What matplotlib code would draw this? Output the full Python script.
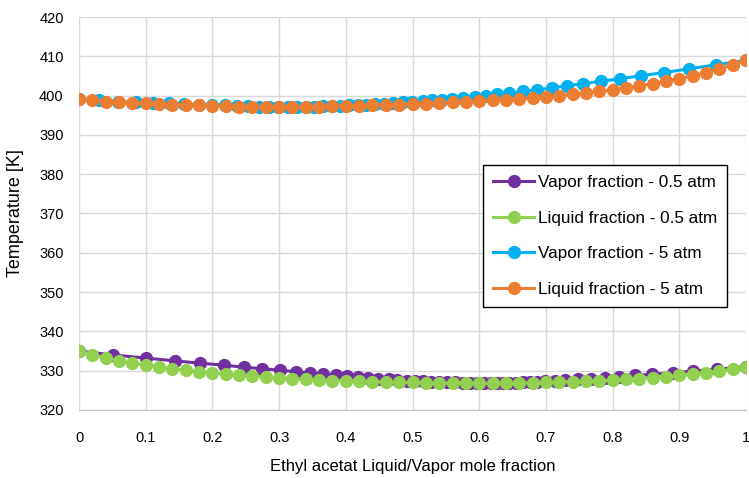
import matplotlib.pyplot as plt
import numpy as np

plt.rcParams['font.family'] = ['Liberation Sans', 'DejaVu Sans']

# liquid mole fraction of ethyl acetate (same grid for both pressures)
x_liq = [0.00, 0.02, 0.04, 0.06, 0.08, 0.10, 0.12, 0.14, 0.16, 0.18,
         0.20, 0.22, 0.24, 0.26, 0.28, 0.30, 0.32, 0.34, 0.36, 0.38,
         0.40, 0.42, 0.44, 0.46, 0.48, 0.50, 0.52, 0.54, 0.56, 0.58,
         0.60, 0.62, 0.64, 0.66, 0.68, 0.70, 0.72, 0.74, 0.76, 0.78,
         0.80, 0.82, 0.84, 0.86, 0.88, 0.90, 0.92, 0.94, 0.96, 0.98, 1.00]

# bubble temperatures [K] at 0.5 atm
T_05 = [335.0, 334.0, 333.2, 332.5, 331.9, 331.4, 330.9, 330.5, 330.1, 329.7,
        329.4, 329.1, 328.8, 328.6, 328.4, 328.2, 328.0, 327.8, 327.6, 327.5,
        327.4, 327.3, 327.2, 327.1, 327.0, 327.0, 326.9, 326.85, 326.8, 326.75,
        326.75, 326.75, 326.8, 326.85, 326.9, 327.0, 327.1, 327.2, 327.35, 327.45,
        327.6, 327.8, 328.0, 328.2, 328.5, 328.8, 329.1, 329.5, 329.9, 330.4, 331.0]

# vapor mole fraction in equilibrium at 0.5 atm
y_05 = [0.000, 0.051, 0.101, 0.144, 0.182, 0.217, 0.247, 0.275, 0.302, 0.326,
        0.347, 0.366, 0.385, 0.402, 0.419, 0.434, 0.449, 0.464, 0.477, 0.491,
        0.504, 0.516, 0.528, 0.540, 0.552, 0.564, 0.575, 0.586, 0.597, 0.607,
        0.617, 0.626, 0.636, 0.645, 0.655, 0.665, 0.676, 0.687, 0.699, 0.713,
        0.729, 0.748, 0.768, 0.789, 0.810, 0.834, 0.859, 0.890, 0.921, 0.956, 1.000]

# bubble temperatures [K] at 5 atm
T_5 = [399.1, 398.8, 398.5, 398.3, 398.1, 398.0, 397.9, 397.7, 397.6, 397.5,
       397.4, 397.3, 397.2, 397.2, 397.15, 397.15, 397.15, 397.2, 397.2, 397.3,
       397.35, 397.4, 397.5, 397.6, 397.7, 397.8, 397.9, 398.05, 398.25, 398.45,
       398.65, 398.8, 399.0, 399.2, 399.4, 399.7, 400.0, 400.3, 400.7, 401.05,
       401.45, 401.95, 402.5, 403.05, 403.65, 404.3, 405.05, 405.85, 406.8, 407.85, 409.0]

# vapor mole fraction in equilibrium at 5 atm
y_5 = [0.000, 0.030, 0.058, 0.085, 0.111, 0.135, 0.158, 0.180, 0.200, 0.219,
       0.237, 0.254, 0.270, 0.285, 0.299, 0.313, 0.327, 0.340, 0.353, 0.366,
       0.379, 0.392, 0.405, 0.418, 0.431, 0.444, 0.457, 0.471, 0.485, 0.499,
       0.515, 0.529, 0.544, 0.559, 0.576, 0.594, 0.610, 0.627, 0.645, 0.665,
       0.686, 0.709, 0.731, 0.756, 0.783, 0.811, 0.842, 0.877, 0.914, 0.955, 1.000]

fig = plt.figure(figsize=(7.49, 4.78), dpi=100)
ax = fig.add_axes([0.1055, 0.1423, 0.8905, 0.8221])

kw = dict(marker='o', markersize=8.5, linewidth=2.2)
ax.plot(y_05, T_05, color='#7030A0', label='Vapor fraction - 0.5 atm', **kw)
ax.plot(x_liq, T_05, color='#92D050', label='Liquid fraction - 0.5 atm', **kw)
ax.plot(y_5, T_5, color='#00B0F0', label='Vapor fraction - 5 atm', **kw)
ax.plot(x_liq, T_5, color='#ED7D31', label='Liquid fraction - 5 atm', **kw)

ax.set_xlim(0, 1)
ax.set_ylim(320, 420)
ax.set_xticks(np.arange(0, 1.01, 0.1))
ax.set_xticklabels(['0', '0.1', '0.2', '0.3', '0.4', '0.5', '0.6', '0.7', '0.8', '0.9', '1'])
ax.set_yticks(np.arange(320, 421, 10))
ax.tick_params(length=0, labelsize=10.5, colors='black')
ax.tick_params(axis='x', pad=15)
ax.tick_params(axis='y', pad=11)

ax.grid(True, color='#D9D9D9', linewidth=1)
ax.set_axisbelow(True)
for s in ['top', 'right', 'left']:
    ax.spines[s].set_visible(False)
ax.spines['bottom'].set_color('#BFBFBF')

ax.set_xlabel('Ethyl acetat Liquid/Vapor mole fraction', fontsize=12, labelpad=10)
ax.set_ylabel('Temperature [K]', fontsize=13, labelpad=11)

leg = ax.legend(loc='upper left', bbox_to_anchor=(0.6057, 0.6234), borderaxespad=0,
                fontsize=12.3, frameon=True, fancybox=False, edgecolor='black',
                framealpha=1, handlelength=2.4, handletextpad=0.2,
                labelspacing=1.2, borderpad=0.6)
leg.get_frame().set_linewidth(1.0)

fig.savefig('out.png', dpi=100)
